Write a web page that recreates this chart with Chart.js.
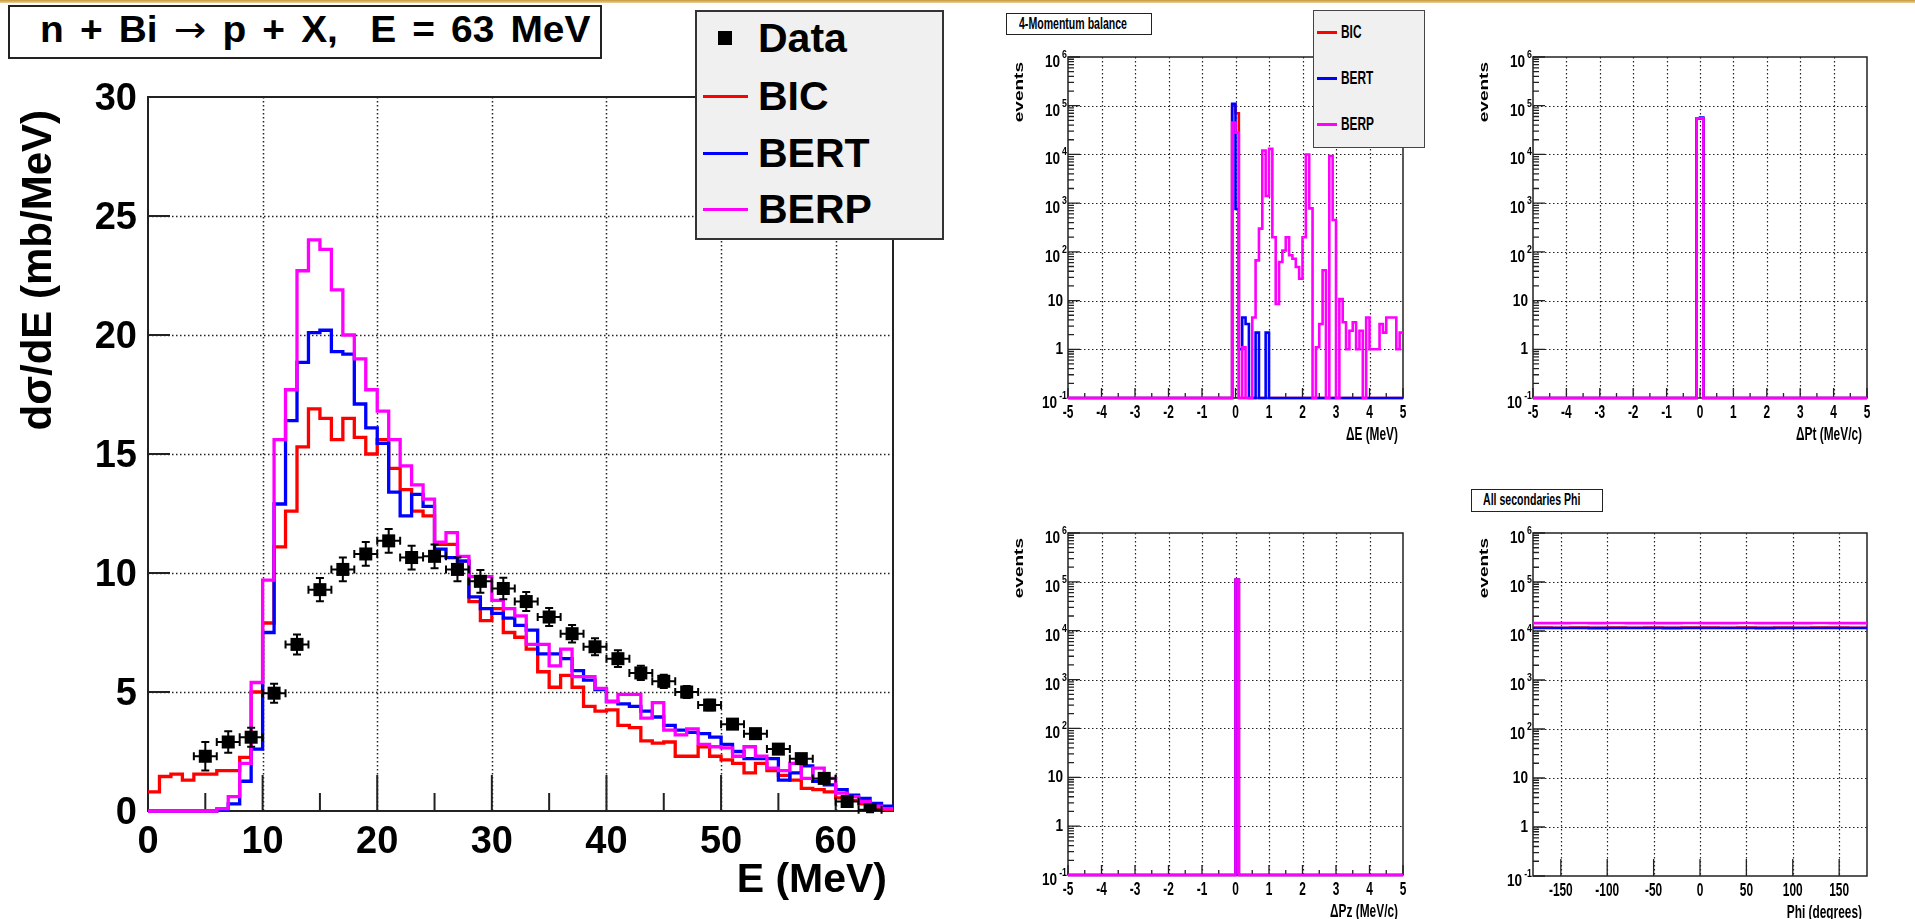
<!DOCTYPE html>
<html>
<head>
<meta charset="utf-8">
<title>n + Bi → p + X, E = 63 MeV</title>
<script src="https://cdn.jsdelivr.net/npm/chart.js@4.4.1/dist/chart.umd.min.js"></script>
<style>
  html, body { margin: 0; padding: 0; background: #fff; }
  body { position: relative; width: 1915px; height: 919px; overflow: hidden;
         font-family: "Liberation Sans", Arial, Helvetica, sans-serif; font-weight: bold; color: #000; }
  canvas { position: absolute; }
  .bar { position: absolute; left: 0; top: 0; width: 1915px; height: 3px;
         background: linear-gradient(to bottom, #c8963a, #ecd39a); }
  .box { position: absolute; box-sizing: border-box; }
  .txt { position: absolute; white-space: pre; transform-origin: 0 50%; }
  .arrow { font-family: "DejaVu Sans", sans-serif; font-weight: normal; }
  .sw  { position: absolute; height: 3px; }
</style>
</head>
<body>
<div class="bar"></div>

<canvas id="cMain"></canvas>
<canvas id="cDE"></canvas>
<canvas id="cPt"></canvas>
<canvas id="cPz"></canvas>
<canvas id="cPhi"></canvas>

<!-- main title and legend -->
<div class="box" style="left:8px;top:5px;width:594px;height:54px;border:2px solid #222;background:#fff"></div>
<span class="txt" id="mainTitle" style="left:40px;top:12px;font-size:36px;line-height:36px">n + Bi <span class="arrow">→</span> p + X,  E = 63 MeV</span>

<div class="box" style="left:695px;top:10px;width:249px;height:230px;border:2px solid #333;background:#f0f0f0"></div>
<div class="box" style="left:718px;top:31px;width:14px;height:14px;background:#000"></div>
<div class="sw" style="left:703px;top:95px;width:45px;background:#ff0000"></div>
<div class="sw" style="left:703px;top:152px;width:45px;background:#0000ff"></div>
<div class="sw" style="left:703px;top:208px;width:45px;background:#ff00ff"></div>
<span class="txt" style="left:758px;top:18px;font-size:41px;line-height:41px">Data</span>
<span class="txt" style="left:758px;top:76px;font-size:41px;line-height:41px">BIC</span>
<span class="txt" style="left:758px;top:133px;font-size:41px;line-height:41px">BERT</span>
<span class="txt" style="left:758px;top:189px;font-size:41px;line-height:41px">BERP</span>

<!-- small panels: titles and legend -->
<div class="box" style="left:1006px;top:13px;width:146px;height:22px;border:1.5px solid #222;background:#fff"></div>
<span class="txt" style="left:1019px;top:16px;font-size:16px;line-height:16px;transform:scaleX(0.66)">4-Momentum balance</span>

<div class="box" style="left:1313px;top:10px;width:112px;height:138px;border:1.5px solid #444;background:#f0f0f0"></div>
<div class="sw" style="left:1317px;top:31px;width:20px;background:#ff0000"></div>
<div class="sw" style="left:1317px;top:77px;width:20px;background:#0000ff"></div>
<div class="sw" style="left:1317px;top:123px;width:20px;background:#ff00ff"></div>
<span class="txt" style="left:1341px;top:23px;font-size:18px;line-height:18px;transform:scaleX(0.66)">BIC</span>
<span class="txt" style="left:1341px;top:69px;font-size:18px;line-height:18px;transform:scaleX(0.66)">BERT</span>
<span class="txt" style="left:1341px;top:115px;font-size:18px;line-height:18px;transform:scaleX(0.66)">BERP</span>

<div class="box" style="left:1471px;top:489px;width:132px;height:23px;border:1.5px solid #222;background:#fff"></div>
<span class="txt" style="left:1483px;top:492px;font-size:16px;line-height:16px;transform:scaleX(0.66)">All secondaries Phi</span>

<script>
// ---------- proton spectrum, n + Bi -> p + X at 63 MeV ----------
const eFirst = 0;     // lower edge of first model bin (MeV)
const eWidth = 1;     // model bin width (MeV)

const bic = [0.8, 1.45, 1.55, 1.3, 1.55, 1.55, 1.7, 1.7, 2.25, 5.0,
  7.9, 11.1, 12.6, 15.3, 16.9, 16.5, 15.6, 16.5, 15.7, 15.0,
  15.6, 14.4, 13.5, 12.6, 12.4, 11.2, 11.2, 10.5, 8.8, 8.0,
  8.5, 7.5, 7.3, 6.8, 5.85, 5.2, 5.7, 5.2, 4.4, 4.2,
  4.25, 3.6, 3.5, 2.95, 2.85, 2.9, 2.3, 2.3, 2.7, 2.3,
  2.15, 2.0, 1.6, 2.0, 1.7, 1.5, 1.3, 0.95, 0.9, 0.8,
  0.55, 0.45, 0.3, 0.15, 0.07];

const bert = [0, 0, 0, 0, 0, 0, 0.05, 0.3, 1.25, 2.6,
  7.5, 12.9, 16.4, 18.85, 20.1, 20.2, 19.3, 19.2, 17.1, 16.1,
  15.45, 13.4, 12.4, 13.3, 12.8, 11.0, 10.65, 10.5, 9.0, 8.5,
  8.3, 8.1, 7.8, 7.6, 6.6, 6.6, 6.4, 5.9, 5.5, 5.1,
  4.6, 4.5, 4.4, 4.2, 3.95, 3.6, 3.4, 3.3, 3.25, 3.1,
  2.8, 2.5, 2.2, 2.2, 2.2, 1.3, 1.6, 1.9, 1.25, 1.1,
  0.9, 0.67, 0.53, 0.32, 0.2];

const berp = [0, 0, 0, 0, 0, 0, 0.1, 0.6, 2.0, 5.4,
  9.7, 15.6, 17.7, 22.7, 24.0, 23.6, 21.9, 20.0, 19.0, 17.7,
  16.8, 15.6, 14.5, 13.7, 13.1, 11.3, 11.7, 10.7, 9.85, 9.85,
  8.85, 8.5, 8.2, 7.0, 7.0, 6.1, 6.8, 5.65, 5.65, 5.15,
  4.6, 4.9, 4.9, 3.9, 4.55, 3.4, 3.2, 3.45, 2.8, 2.7,
  2.65, 2.3, 2.7, 2.3, 1.8, 1.7, 2.0, 1.37, 1.8, 1.37,
  0.75, 0.6, 0.4, 0.2, 0.1];

const dataE = [5, 7, 9, 11, 13, 15, 17, 19, 21, 23, 25, 27, 29, 31, 33,
  35, 37, 39, 41, 43, 45, 47, 49, 51, 53, 55, 57, 59, 61, 63];
const dataY = [2.3, 2.9, 3.1, 4.95, 7.0, 9.3, 10.15, 10.8, 11.35, 10.65, 10.7, 10.15, 9.65, 9.35, 8.8,
  8.15, 7.45, 6.9, 6.4, 5.8, 5.45, 5.0, 4.45, 3.65, 3.25, 2.6, 2.2, 1.37, 0.4, 0.05];
const dataErr = [0.6, 0.45, 0.4, 0.4, 0.42, 0.49, 0.5, 0.5, 0.5, 0.5, 0.5, 0.5, 0.48, 0.45, 0.4,
  0.38, 0.37, 0.36, 0.35, 0.3, 0.28, 0.25, 0.22, 0.2, 0.2, 0.2, 0.2, 0.18, 0.15, 0.1];
const dataEErr = 1;

const eTicks = [0, 10, 20, 30, 40, 50, 60];
const eMinor = [5, 15, 25, 35, 45, 55, 65];
const sigmaTicks = [0, 5, 10, 15, 20, 25, 30];

// ---------- 4-momentum balance and secondaries ----------
const dWidth = 0.1;

const deFirst = -0.1;
const deBIC  = [100000, 70000];
const deBERT = [110000, 760, 1, 4.5, 3.3, 0, 0, 2.2, 0, 0, 2.2];
const deBERP = [45000, 28000, 0, 1.1, 0, 0, 4.5, 67, 300, 12000,
  1400, 13000, 200, 8.5, 62, 107, 200, 85, 72, 49,
  28, 200, 10000, 780, 0, 1.1, 3.3, 42, 0, 9300,
  450, 0, 10.7, 3.6, 1, 2.4, 3.6, 1, 2.4, 0,
  4.5, 1, 1, 1, 3.3, 2.2, 4.5, 4.5, 4.5, 1, 2.2];

const ptFirst = -0.1;
const ptBIC  = [55000, 55000];
const ptBERT = [54000, 57000];
const ptBERP = [55000, 55000];

const pzFirst = 0;
const pzBIC  = [110000];
const pzBERT = [110000];
const pzBERP = [110000];

const phiFirst = -180;
const phiWidth = 20;
const phiBIC  = [11700, 11660, 11720, 11680, 11710, 11690, 11730, 11670, 11700,
  11720, 11680, 11700, 11660, 11720, 11690, 11700, 11710, 11680];
const phiBERT = [11500, 11480, 11530, 11470, 11510, 11490, 11540, 11460, 11500,
  11520, 11480, 11510, 11470, 11530, 11490, 11500, 11520, 11480];
const phiBERP = [14500, 14450, 14520, 14480, 14550, 14470, 14510, 14490, 14530,
  14460, 14500, 14540, 14480, 14510, 14470, 14520, 14490, 14500];

const deltaTicks = [-5, -4, -3, -2, -1, 0, 1, 2, 3, 4, 5];
const deltaMinor = [-4.5, -3.5, -2.5, -1.5, -0.5, 0.5, 1.5, 2.5, 3.5, 4.5];
const phiTicks = [-150, -100, -50, 0, 50, 100, 150];
const decades = [-1, 0, 1, 2, 3, 4, 5, 6];

const RED = '#ff0000', BLUE = '#0000ff', MAGENTA = '#ff00ff';
const FONT = '"Liberation Sans", Arial, Helvetica, sans-serif';

// histogram outline as step points; empty bins sit on the floor value
function steps(first, width, vals, xmin, xmax, floor) {
  const pts = [];
  if (first > xmin + 1e-9) pts.push({ x: xmin, y: floor });
  vals.forEach((v, i) => pts.push({ x: first + i * width, y: Math.max(v, floor) }));
  const end = first + vals.length * width;
  pts.push({ x: end, y: Math.max(vals[vals.length - 1], floor) });
  if (end < xmax - 1e-9) {
    pts.push({ x: end, y: floor });
    pts.push({ x: xmax, y: floor });
  }
  return pts;
}

function hist(label, color, pts, width) {
  return { label, data: pts, borderColor: color, borderWidth: width, stepped: 'before',
           pointRadius: 0, fill: false, tension: 0, clip: 8 };
}

function label(ctx, str, x, y, px, align, sx) {
  ctx.save();
  ctx.translate(x, y);
  ctx.scale(sx || 1, 1);
  ctx.font = 'bold ' + px + 'px ' + FONT;
  ctx.textAlign = align;
  ctx.textBaseline = 'alphabetic';
  ctx.fillText(str, 0, 0);
  ctx.restore();
}

function textWidth(ctx, str, px) {
  ctx.save();
  ctx.font = 'bold ' + px + 'px ' + FONT;
  const w = ctx.measureText(str).width;
  ctx.restore();
  return w;
}

// vertical axis title, reading bottom to top, ending at (x, yTop)
function upText(ctx, str, x, yTop, px, squeeze) {
  ctx.save();
  ctx.translate(x, yTop);
  ctx.rotate(-Math.PI / 2);
  ctx.scale(1, squeeze || 1);
  ctx.font = 'bold ' + px + 'px ' + FONT;
  ctx.textAlign = 'right';
  ctx.fillText(str, 0, 0);
  ctx.restore();
}

function decadeLabel(ctx, k, right, yp) {
  if (k === 0 || k === 1) {
    label(ctx, k ? '10' : '1', right - 5, yp + 5, 17, 'right', 0.8);
    return;
  }
  const sup = String(k);
  const ws = textWidth(ctx, sup, 11) * 0.8;
  label(ctx, sup, right - 1, yp + 1, 11, 'right', 0.8);
  label(ctx, '10', right - 3 - ws, yp + 10, 17, 'right', 0.8);
}

// ROOT-like frame: dotted grid, box, inside ticks and labels
const rootFrame = {
  id: 'rootFrame',
  beforeDatasetsDraw(chart, args, o) {
    const { ctx, chartArea: a } = chart;
    const sx = chart.scales.x, sy = chart.scales.y;
    ctx.save();
    ctx.strokeStyle = '#222';
    ctx.lineWidth = o.gridWidth;
    ctx.setLineDash(o.dash);
    ctx.beginPath();
    o.xGrid.forEach(v => {
      const p = Math.round(sx.getPixelForValue(v)) + 0.5;
      ctx.moveTo(p, a.top); ctx.lineTo(p, a.bottom);
    });
    o.yGrid.forEach(v => {
      const p = Math.round(sy.getPixelForValue(v)) + 0.5;
      ctx.moveTo(a.left, p); ctx.lineTo(a.right, p);
    });
    ctx.stroke();
    ctx.setLineDash([]);

    ctx.lineWidth = o.frameWidth;
    ctx.strokeRect(a.left, a.top, a.right - a.left, a.bottom - a.top);

    ctx.beginPath();
    const xt = (vals, len) => vals.forEach(v => {
      const p = sx.getPixelForValue(v);
      ctx.moveTo(p, a.bottom); ctx.lineTo(p, a.bottom - len);
    });
    const yt = (vals, len) => vals.forEach(v => {
      const p = sy.getPixelForValue(v);
      ctx.moveTo(a.left, p); ctx.lineTo(a.left + len, p);
    });
    xt(o.xMajor, o.xMajorLen); xt(o.xMinor, o.xMinorLen);
    yt(o.yMajor, o.yMajorLen); yt(o.yMinor, o.yMinorLen);
    ctx.lineWidth = o.tickWidth;
    ctx.stroke();

    ctx.fillStyle = '#000';
    o.labels(ctx, a, sx, sy);
    ctx.restore();
  }
};

// error bars with end caps on the data points
const errorBars = {
  id: 'errorBars',
  afterDatasetsDraw(chart) {
    const { ctx } = chart;
    const sx = chart.scales.x, sy = chart.scales.y;
    ctx.save();
    ctx.strokeStyle = '#000';
    ctx.lineWidth = 2;
    ctx.beginPath();
    dataE.forEach((e, i) => {
      const x = sx.getPixelForValue(e), y = sy.getPixelForValue(dataY[i]);
      const x0 = sx.getPixelForValue(e - dataEErr), x1 = sx.getPixelForValue(e + dataEErr);
      const y0 = sy.getPixelForValue(dataY[i] - dataErr[i]), y1 = sy.getPixelForValue(dataY[i] + dataErr[i]);
      ctx.moveTo(x0, y); ctx.lineTo(x1, y);
      ctx.moveTo(x0, y - 4); ctx.lineTo(x0, y + 4);
      ctx.moveTo(x1, y - 4); ctx.lineTo(x1, y + 4);
      ctx.moveTo(x, y0); ctx.lineTo(x, y1);
      ctx.moveTo(x - 4, y0); ctx.lineTo(x + 4, y0);
      ctx.moveTo(x - 4, y1); ctx.lineTo(x + 4, y1);
    });
    ctx.stroke();
    ctx.restore();
  }
};

function makeChart(id, box, area, xScale, yScale, datasets, frame, extra) {
  const cv = document.getElementById(id);
  cv.width = box.w; cv.height = box.h;
  cv.style.left = box.x + 'px'; cv.style.top = box.y + 'px';
  return new Chart(cv, {
    type: 'line',
    data: { datasets },
    options: {
      responsive: false, animation: false, events: [],
      layout: { padding: { left: area.l - box.x, top: area.t - box.y,
                           right: box.x + box.w - area.r, bottom: box.y + box.h - area.b } },
      scales: { x: Object.assign({ type: 'linear', display: false }, xScale),
                y: Object.assign({ display: false }, yScale) },
      plugins: { legend: { display: false }, tooltip: { enabled: false }, rootFrame: frame },
      elements: { point: { radius: 0 } }
    },
    plugins: [rootFrame].concat(extra || [])
  });
}

// ---------- main spectrum ----------
makeChart('cMain', { x: 0, y: 0, w: 960, h: 919 }, { l: 148, t: 97, r: 893, b: 811 },
  { min: 0, max: 65 }, { type: 'linear', min: 0, max: 30 },
  [
    { label: 'Data', data: dataE.map((e, i) => ({ x: e, y: dataY[i] })), showLine: false,
      pointStyle: 'rect', pointRadius: 9.2, pointBackgroundColor: '#000', pointBorderWidth: 0 },
    hist('BERP', MAGENTA, steps(eFirst, eWidth, berp, 0, 65, 0), 3.3),
    hist('BERT', BLUE, steps(eFirst, eWidth, bert, 0, 65, 0), 3.3),
    hist('BIC', RED, steps(eFirst, eWidth, bic, 0, 65, 0), 3.3)
  ],
  {
    gridWidth: 1.5, dash: [1.5, 2.5], frameWidth: 2, tickWidth: 2,
    xGrid: [10, 20, 30, 40, 50, 60], yGrid: [5, 10, 15, 20, 25],
    xMajor: eTicks, xMajorLen: 36, xMinor: eMinor, xMinorLen: 18,
    yMajor: sigmaTicks, yMajorLen: 22, yMinor: [], yMinorLen: 0,
    labels(ctx, a, sx, sy) {
      sigmaTicks.forEach(v => label(ctx, String(v), a.left - 11, sy.getPixelForValue(v) + 13, 38, 'right'));
      eTicks.forEach(v => label(ctx, String(v), sx.getPixelForValue(v), a.bottom + 42, 38, 'center'));
      label(ctx, 'E (MeV)', a.right - 6, a.bottom + 81, 41, 'right');
      upText(ctx, 'dσ/dE (mb/MeV)', a.left - 97, a.top + 13, 42);
    }
  },
  [errorBars]);

// ---------- log panels ----------
const logY = { type: 'logarithmic', min: 0.1, max: 1e6 };
const logMinor = [];
decades.slice(0, -1).forEach(k => { for (let m = 2; m <= 9; m++) logMinor.push(m * Math.pow(10, k)); });
const decadeVals = decades.map(k => Math.pow(10, k));

function logFrame(xTicks, xMinor, xMajorLen, xTitle) {
  return {
    gridWidth: 1.2, dash: [1.5, 2.5], frameWidth: 1.5, tickWidth: 1.3,
    xGrid: xTicks[0] === -5 ? xTicks.slice(1, -1) : xTicks,
    yGrid: decadeVals.slice(1, -1),
    xMajor: xTicks, xMajorLen, xMinor, xMinorLen: 5,
    yMajor: decadeVals, yMajorLen: 12, yMinor: logMinor, yMinorLen: 6,
    labels(ctx, a, sx, sy) {
      decades.forEach(k => decadeLabel(ctx, k, a.left, sy.getPixelForValue(Math.pow(10, k))));
      xTicks.forEach(v => label(ctx, String(v), sx.getPixelForValue(v), a.bottom + 20, 18, 'center', 0.66));
      label(ctx, xTitle, a.right - 5, a.bottom + 42, 18, 'right', 0.66);
      upText(ctx, 'events', a.left - 45, a.top + 5, 19, 0.66);
    }
  };
}

function logSets(first, width, vBIC, vBERT, vBERP, xmin, xmax) {
  return [
    hist('BERP', MAGENTA, steps(first, width, vBERP, xmin, xmax, 0.1), 2.6),
    hist('BERT', BLUE, steps(first, width, vBERT, xmin, xmax, 0.1), 2.6),
    hist('BIC', RED, steps(first, width, vBIC, xmin, xmax, 0.1), 2.6)
  ];
}

makeChart('cDE', { x: 990, y: 0, w: 460, h: 460 }, { l: 1068, t: 57, r: 1403, b: 398 },
  { min: -5, max: 5 }, logY, logSets(deFirst, dWidth, deBIC, deBERT, deBERP, -5, 5),
  logFrame(deltaTicks, deltaMinor, 10, 'ΔE (MeV)'));

makeChart('cPt', { x: 1455, y: 0, w: 460, h: 460 }, { l: 1533, t: 57, r: 1867, b: 398 },
  { min: -5, max: 5 }, logY, logSets(ptFirst, dWidth, ptBIC, ptBERT, ptBERP, -5, 5),
  logFrame(deltaTicks, deltaMinor, 10, 'ΔPt (MeV/c)'));

makeChart('cPz', { x: 990, y: 460, w: 460, h: 459 }, { l: 1068, t: 533, r: 1403, b: 875 },
  { min: -5, max: 5 }, logY, logSets(pzFirst, dWidth, pzBIC, pzBERT, pzBERP, -5, 5),
  logFrame(deltaTicks, deltaMinor, 10, 'ΔPz (MeV/c)'));

makeChart('cPhi', { x: 1455, y: 460, w: 460, h: 459 }, { l: 1533, t: 533, r: 1867, b: 876 },
  { min: -180, max: 180 }, logY, logSets(phiFirst, phiWidth, phiBIC, phiBERT, phiBERP, -180, 180),
  logFrame(phiTicks, [], 17, 'Phi (degrees)'));

// widen the main title a little and spread the rest over its spaces
const t = document.getElementById('mainTitle');
const stretch = 1.08;
const gaps = (t.textContent.match(/ /g) || []).length;
t.style.wordSpacing = Math.max(0, (550 / stretch - t.offsetWidth) / gaps) + 'px';
t.style.transform = 'scaleX(' + stretch + ')';
</script>
</body>
</html>
